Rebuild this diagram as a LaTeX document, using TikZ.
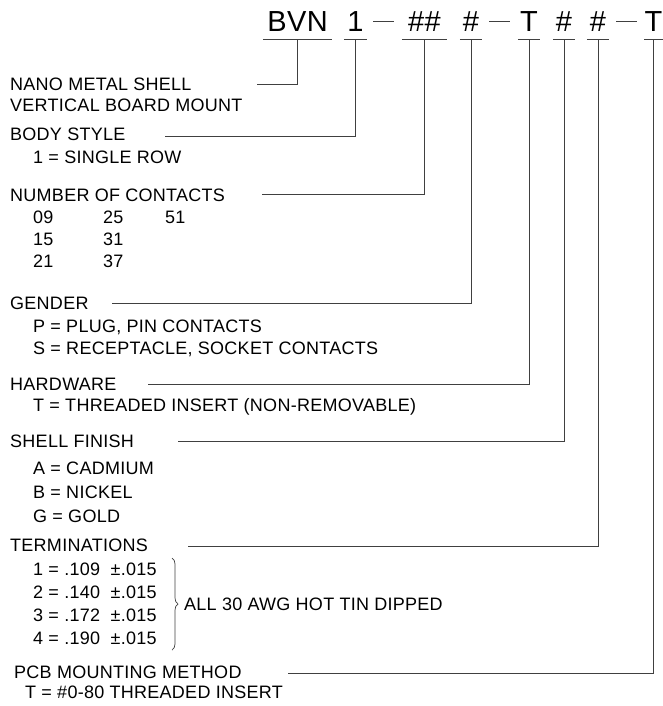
\documentclass[tikz,border=0pt]{standalone}
\usepackage{fontspec}
\setmainfont{Liberation Sans}[LetterSpace=1.5]
\usetikzlibrary{decorations.pathreplacing}

\tikzset{
  lbl/.style={anchor=west, inner sep=0pt, font=\fontsize{18}{20}\selectfont},
  code/.style={anchor=base, inner xsep=0pt, inner ysep=0pt, text depth=7pt,
    minimum width=#1, font=\fontsize{29}{32}\selectfont},
  lead/.style={draw=black!75, line width=0.9pt},
}

\begin{document}
\begin{tikzpicture}[x=1pt, y=-1pt]
\useasboundingbox (0,0) rectangle (663,706);

% part number
\node[code=69pt] (cSeries) at (297.5,32) {BVN};
\node[code=23pt] (cBody)   at (355.5,32) {1};
\node[code=45pt] (cCount)  at (424.5,32) {\#\#};
\node[code=22pt] (cGender) at (471,32)   {\#};
\node[code=22pt] (cHard)   at (529,32)   {T};
\node[code=22pt] (cFinish) at (564,32)   {\#};
\node[code=22pt] (cTerm)   at (598,32)   {\#};
\node[code=17pt] (cMount)  at (653.5,32) {T};
\foreach \c in {cSeries,cBody,cCount,cGender,cHard,cFinish,cTerm,cMount}
  \draw[lead] (\c.south west) -- (\c.south east);
\draw[lead] (373,21) -- (394,21);
\draw[lead] (489,21) -- (510,21);
\draw[lead] (616,21) -- (637,21);

% fields
\node[lbl] (series)  at (10,84)  {NANO METAL SHELL};
\node[lbl] (seriesB) at (10,105) {VERTICAL BOARD MOUNT};

\node[lbl] (body)  at (10,134) {BODY STYLE};
\node[lbl] (bodyA) at (33,157) {1 = SINGLE ROW};

\node[lbl] (count) at (10,195) {NUMBER OF CONTACTS};
\node[lbl] (n09) at (33,217)  {09};
\node[lbl] (n25) at (103,217) {25};
\node[lbl] (n51) at (165,217) {51};
\node[lbl] (n15) at (33,239)  {15};
\node[lbl] (n31) at (103,239) {31};
\node[lbl] (n21) at (33,261)  {21};
\node[lbl] (n37) at (103,261) {37};

\node[lbl] (gender)  at (10,303) {GENDER};
\node[lbl] (genderP) at (33,327) {P = PLUG, PIN CONTACTS};
\node[lbl] (genderS) at (33,349) {S = RECEPTACLE, SOCKET CONTACTS};

\node[lbl] (hard)  at (10,384) {HARDWARE};
\node[lbl] (hardT) at (33,407) {T = THREADED INSERT (NON-REMOVABLE)};

\node[lbl] (finish)  at (10,441) {SHELL FINISH};
\node[lbl] (finishA) at (33,468) {A = CADMIUM};
\node[lbl] (finishB) at (33,492) {B = NICKEL};
\node[lbl] (finishG) at (33,516) {G = GOLD};

\node[lbl] (term)  at (10,545) {TERMINATIONS};
\node[lbl] (term1) at (33,569) {1 = .109\ \ ±.015};
\node[lbl] (term2) at (33,592) {2 = .140\ \ ±.015};
\node[lbl] (term3) at (33,615) {3 = .172\ \ ±.015};
\node[lbl] (term4) at (33,638) {4 = .190\ \ ±.015};
\node[lbl] (termNote) at (184,604) {ALL 30 AWG HOT TIN DIPPED};

\node[lbl] (mount)  at (14,672) {PCB MOUNTING METHOD};
\node[lbl] (mountT) at (25,692) {T = \#0-80 THREADED INSERT};

% leaders
\coordinate (lSeries) at (257,84);
\coordinate (lBody)   at (165,136);
\coordinate (lCount)  at (262,194);
\coordinate (lGender) at (112,303);
\coordinate (lHard)   at (148,384);
\coordinate (lFinish) at (178,441);
\coordinate (lTerm)   at (188,546);
\coordinate (lMount)  at (288,673);
\draw[lead] (lSeries) -| (cSeries.south);
\draw[lead] (lBody)   -| (cBody.south);
\draw[lead] (lCount)  -| (cCount.south);
\draw[lead] (lGender) -| (cGender.south);
\draw[lead] (lHard)   -| (cHard.south);
\draw[lead] (lFinish) -| (cFinish.south);
\draw[lead] (lTerm)   -| (cTerm.south);
\draw[lead] (lMount)  -| (cMount.south);

% brace
\coordinate (bTop) at (172,558);
\coordinate (bBot) at (172,650);
\draw[lead, line width=0.7pt, decorate, decoration={brace, amplitude=6pt}] (bTop) -- (bBot);
\end{tikzpicture}
\end{document}
